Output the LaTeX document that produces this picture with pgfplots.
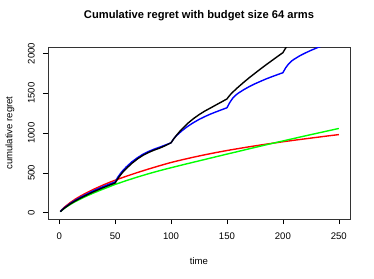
\documentclass[border=0pt]{standalone}
\usepackage{pgfplots}
\pgfplotsset{compat=1.18}
\usepackage{fontspec}
\setmainfont{Liberation Sans}
\begin{document}
\begin{tikzpicture}
\useasboundingbox (-48bp,-60bp) rectangle (326bp,219bp);
\begin{axis}[
  at={(0,0)}, anchor=south west,
  scale only axis, width=302bp, height=172bp,
  xmin=-10, xmax=260, ymin=-80, ymax=2080,
  xtick={0,50,...,250}, ytick={0,500,...,2000},
  xtick pos=bottom, ytick pos=left,
  tick align=outside, major tick length=5bp,
  tick style={black, line width=0.6bp},
  axis line style={black!80, line width=0.7bp},
  /pgf/number format/assume math mode=true,
  /pgf/number format/1000 sep={},
  tick label style={font=\fontsize{9.6}{11}\selectfont},
  xticklabel style={inner sep=0pt, yshift=-9bp},
  yticklabel style={rotate=90, anchor=south, inner sep=0pt, yshift=8bp},
  xlabel={time}, ylabel={cumulative regret},
  label style={font=\fontsize{9.6}{11}\selectfont},
  xlabel style={at={(axis description cs:0.5,-0.2442)}, anchor=center},
  ylabel style={at={(axis description cs:-0.1258,0.5)}, anchor=center, rotate=0},
  title={Cumulative regret with budget size 64 arms},
  title style={at={(axis description cs:0.5,1.1453)}, anchor=center, font=\bfseries\fontsize{11.2}{13}\selectfont},
  clip=true,
  every axis plot/.append style={line width=1.4bp, line join=round},
]
% red
\addplot[red] coordinates {
(1,15)(3,45)(5,72)(10,128)(15,175)(20,216)(25,253)(30,288)(35,320)(40,351)(45,380)(50,407)
(60,457)(70,504)(80,548)(90,590)(100,630)(110,664)(120,696)(130,726)(140,754)(150,780)
(160,804)(170,827)(180,849)(190,870)(200,890)(210,909)(220,927)(230,945)(240,963)(250,980)};
% green
\addplot[green] coordinates {
(1,12)(3,35)(5,57)(10,103)(15,143)(20,178)(25,211)(30,242)(35,271)(40,299)(45,326)(50,354)
(60,402)(70,447)(80,489)(90,528)(100,564)(110,599)(120,633)(130,667)(140,701)(150,735)
(160,768)(170,802)(180,835)(190,868)(200,900)(210,932)(220,964)(230,995)(240,1026)(250,1057)};
% blue
\addplot[blue] coordinates {
(1,14)(3,41)(5,65)(10,117)(15,161)(20,200)(25,236)(30,270)(35,302)(40,331)(45,359)(50,385)
(52.5,447)(55,496)(57.5,538)(60,574)(65,638)(70,690)(75,734)(80,769)(85,798)(90,823)(95,850)(100,877)
(102.5,930)(105,969)(107.5,1000)(110,1031)(115,1084)(120,1130)(125,1170)(130,1205)(135,1236)(140,1264)(145,1291)(150,1317)
(152.5,1383)(155,1434)(157.5,1471)(160,1499)(165,1544)(170,1583)(175,1618)(180,1649)(185,1679)(190,1706)(195,1732)(200,1757)
(202.5,1819)(205,1866)(207.5,1901)(210,1926)(215,1969)(220,2005)(225,2037)(230,2067)(235,2094)(240,2119)};
% black
\addplot[black] coordinates {
(1,12)(3,37)(5,60)(10,110)(15,152)(20,189)(25,224)(30,257)(35,288)(40,317)(45,345)(50,372)
(52.5,428)(55,476)(57.5,518)(60,554)(65,619)(70,675)(75,720)(80,756)(85,786)(90,811)(95,842)(100,877)
(102.5,928)(105,973)(107.5,1015)(110,1053)(115,1122)(120,1180)(125,1230)(130,1274)(135,1312)(140,1351)(145,1389)(150,1428)
(152.5,1474)(155,1510)(157.5,1544)(160,1576)(165,1637)(170,1695)(175,1750)(180,1804)(185,1857)(190,1908)(195,1959)(200,2009)
(202.5,2068)(205,2120)(207.5,2165)};
\end{axis}
\end{tikzpicture}
\end{document}
